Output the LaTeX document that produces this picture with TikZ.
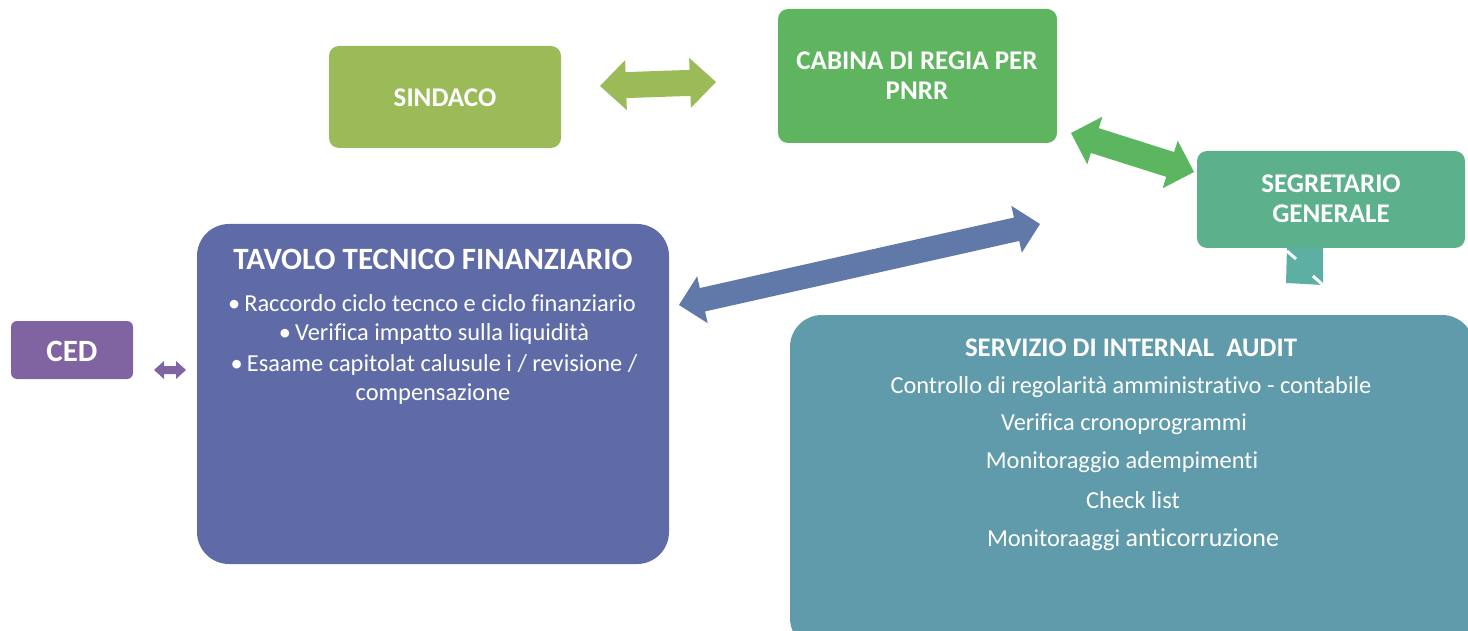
\documentclass[tikz,border=0pt]{standalone}
\usepackage{fontspec}
\setmainfont{Carlito}[Ligatures=NoCommon]
\usetikzlibrary{calc}
\definecolor{csind}{HTML}{9BBB59}
\definecolor{ccab}{HTML}{5FB55F}
\definecolor{cseg}{HTML}{5DB08C}
\definecolor{ctav}{HTML}{5F6BA7}
\definecolor{cced}{HTML}{8064A2}
\definecolor{caud}{HTML}{5F9BAA}
\definecolor{cblue}{HTML}{6079A8}
\definecolor{cgarr}{HTML}{5CB660}
\definecolor{csq}{HTML}{5EAFA3}
\newcommand{\dblarrow}[6]{% a, b, head length, head half width, shaft half width, color
  \fill[#6] (#1) -- ($(#1)!#3!(#2)!#4!-90:(#1)$) -- ($(#1)!#3!(#2)!#5!-90:(#1)$)
    -- ($(#2)!#3!(#1)!#5!90:(#2)$) -- ($(#2)!#3!(#1)!#4!90:(#2)$) -- (#2)
    -- ($(#2)!#3!(#1)!#4!-90:(#2)$) -- ($(#2)!#3!(#1)!#5!-90:(#2)$)
    -- ($(#1)!#3!(#2)!#5!90:(#1)$) -- ($(#1)!#3!(#2)!#4!90:(#1)$) -- cycle;}
\begin{document}
\begin{tikzpicture}[x=1pt,y=-1pt,
  lbl/.style={text=white, font=\fontsize{27}{30}\selectfont\bfseries, align=center, inner sep=0pt},
  body/.style={text=white, font=\fontsize{24.4}{26}\selectfont, inner sep=0pt}]
\useasboundingbox (0,0) rectangle (1468,631);
\begin{scope}
\clip (0,0) rectangle (1468,631);
% boxes
\fill[csind, rounded corners=10pt] (329,46) rectangle (561,148);
\fill[ccab, rounded corners=10pt] (778,9) rectangle (1057,143);
\fill[cseg, rounded corners=10pt] (1197,151) rectangle (1465,248);
\fill[ctav, rounded corners=32pt] (197,224) rectangle (669,564);
\fill[cced, rounded corners=6pt] (11,321) rectangle (133,379);
\fill[caud, rounded corners=32pt] (790,315) rectangle (1474,650);
% labels
\node[lbl] (tsind) at (445,98) {SINDACO};
\node[lbl] (tcab) at (917,76) {CABINA DI REGIA PER\\PNRR};
\node[lbl] (tseg) at (1331,199) {SEGRETARIO\\GENERALE};
\node[lbl, font=\fontsize{31}{33}\selectfont\bfseries] (tced) at (72,351) {CED};
\node[lbl, font=\fontsize{31}{33}\selectfont\bfseries] (ttav) at (433,259) {TAVOLO TECNICO FINANZIARIO};
\node[body] (tv1) at (432,303) {\textbullet\,Raccordo ciclo tecnco e ciclo finanziario};
\node[body] (tv2) at (434,334) {\textbullet\,Verifica impatto sulla liquidità};
\node[body] (tv3) at (434,365) {\textbullet\,Esaame capitolat calusule i / revisione /};
\node[body] (tv4) at (433,394) {compensazione};
\node[lbl, font=\fontsize{26.8}{30}\selectfont\bfseries] (taud) at (1131,348) {SERVIZIO DI INTERNAL~~AUDIT};
\node[body] (ta1) at (1131,387) {Controllo di regolarità amministrativo - contabile};
\node[body] (ta2) at (1124,424) {Verifica cronoprogrammi};
\node[body] (ta3) at (1122,462) {Monitoraggio adempimenti};
\node[body] (ta4) at (1133,500) {Check list};
\node[body] (ta5) at (1133,540) {Monitoraaggi {\fontsize{26}{28}\selectfont anticorruzione}};
% arrows
\coordinate (a1) at (600,86); \coordinate (b1) at (716,82);
\dblarrow{a1}{b1}{26pt}{25pt}{13pt}{csind}
\coordinate (a2) at (1071,133); \coordinate (b2) at (1194,172);
\dblarrow{a2}{b2}{25pt}{25pt}{13pt}{cgarr}
\coordinate (a3) at (679,305); \coordinate (b3) at (1040,224);
\dblarrow{a3}{b3}{24pt}{24pt}{12pt}{cblue}
\coordinate (a4) at (154,370); \coordinate (b4) at (186,370);
\dblarrow{a4}{b4}{10pt}{9pt}{4pt}{cced}
% small square connector
\fill[csq] (1287,247) -- (1323,248) -- (1323,285) -- (1286,283) -- cycle;
\draw[white, line width=3pt] (1287,251) -- (1296,259);
\draw[white, line width=3pt] (1313,276) -- (1323,285);
\end{scope}
\end{tikzpicture}
\end{document}
